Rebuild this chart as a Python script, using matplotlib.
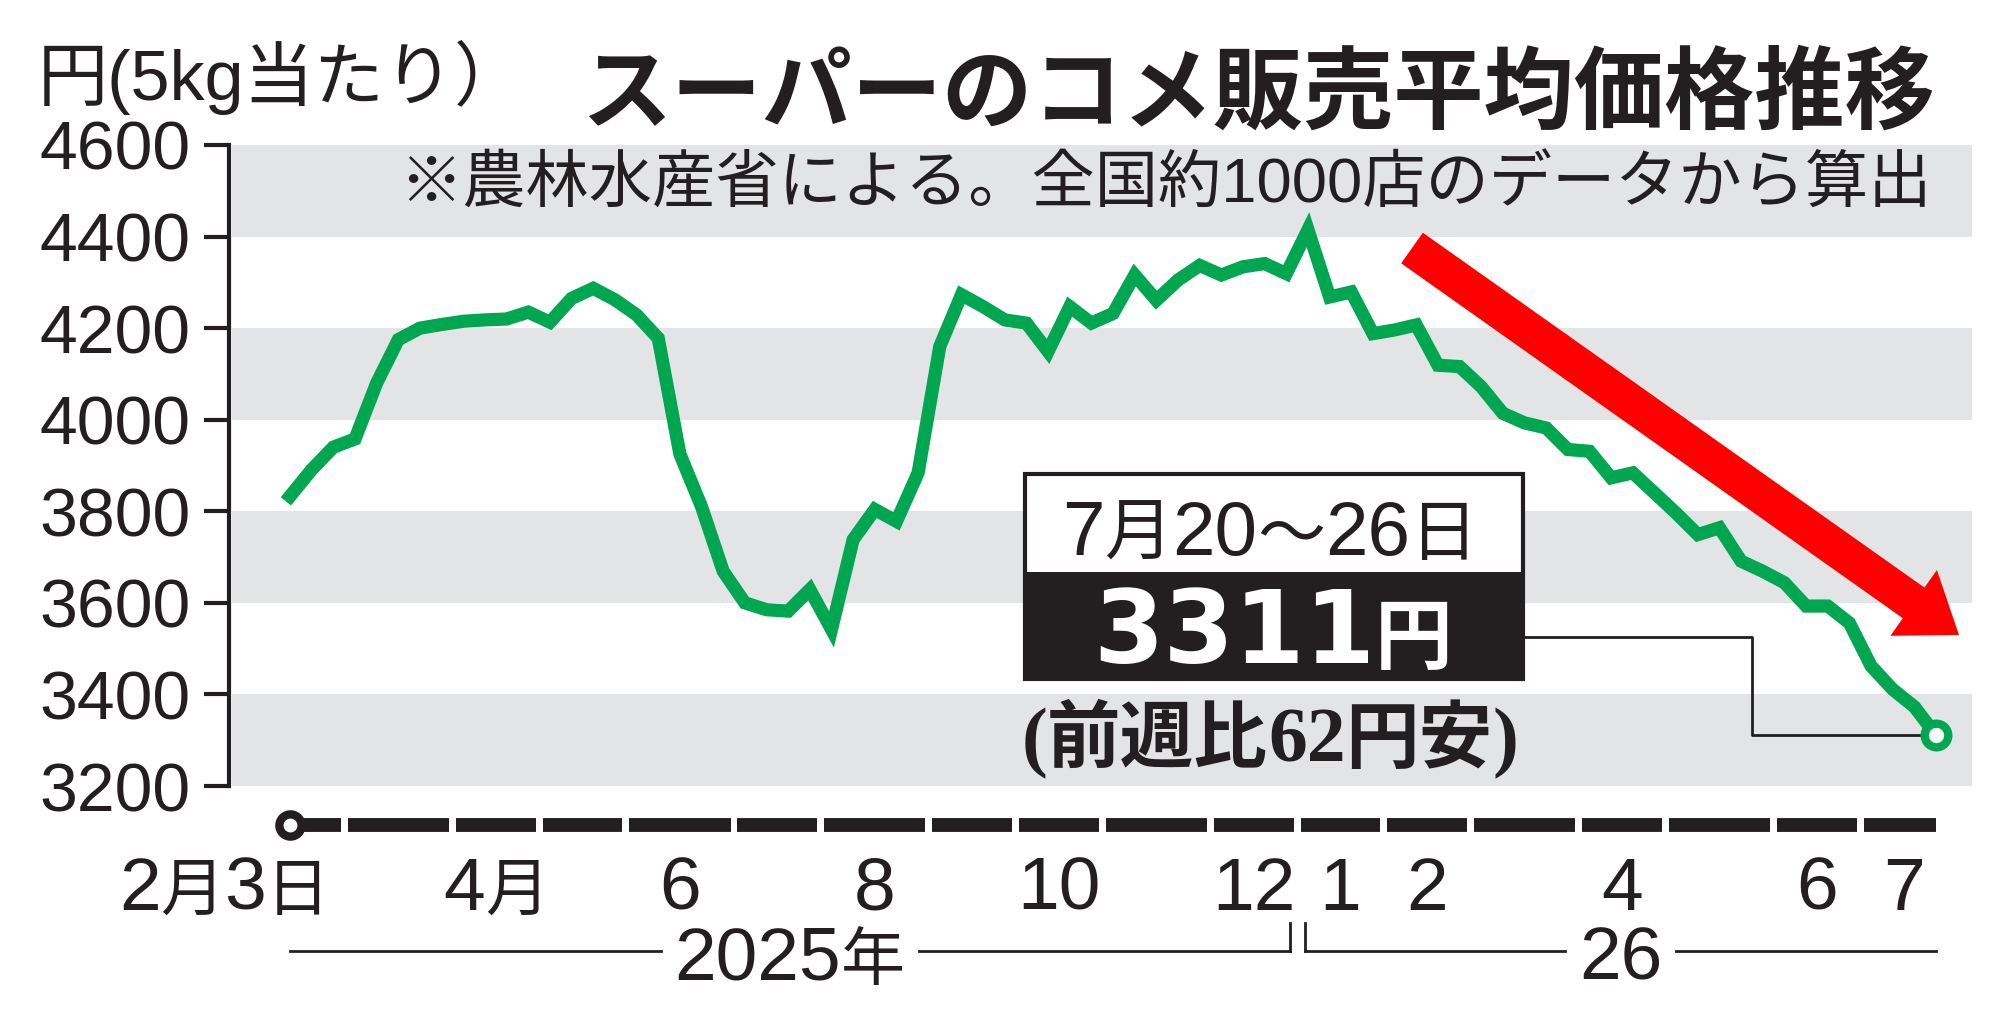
import numpy as np
import pandas as pd
import matplotlib
matplotlib.use('Agg')
import matplotlib.pyplot as plt
from matplotlib import transforms
from matplotlib.patches import Rectangle, FancyArrowPatch

W, H = 2008, 1016

# 週ごとのデータ（週の終わりの日付で月を判定）
week_end = pd.date_range('2025-02-09', periods=77, freq='7D')
prices = [3833, 3891, 3940, 3958, 4080, 4175, 4200, 4208, 4215, 4218,
          4220, 4235, 4213, 4265, 4287, 4262, 4229, 4178, 3925, 3810,
          3669, 3600, 3585, 3582, 3629, 3542, 3738, 3804, 3778, 3884,
          4160, 4273, 4247, 4218, 4211, 4149, 4247, 4211, 4232, 4316,
          4261, 4305, 4337, 4316, 4334, 4341, 4319, 4415, 4268, 4279,
          4188, 4196, 4207, 4119, 4116, 4072, 4014, 3993, 3982, 3935,
          3931, 3873, 3884, 3840, 3796, 3749, 3764, 3691, 3669, 3644,
          3593, 3593, 3556, 3462, 3411, 3373, 3311]

yticks = [3200, 3400, 3600, 3800, 4000, 4200, 4400, 4600]
month_labels = {'2025-02': '2月3日', '2025-04': '4月', '2025-06': '6', '2025-08': '8',
                '2025-10': '10', '2025-12': '12', '2026-01': '1', '2026-02': '2',
                '2026-04': '4', '2026-06': '6', '2026-07': '7'}
year_labels = {2025: '2025年', 2026: '26'}

title = 'スーパーのコメ販売平均価格推移'
subtitle = '※農林水産省による。全国約1000店のデータから算出'
unit_label = '円(5kg当たり）'
last_week = '7月20～26日'
last_price = '3311円'
last_change = '(前週比62円安)'

GREEN = '#00a650'
BLACK = '#231f20'
GRAY = '#e3e4e6'
RED = '#ff0000'
LATIN = ['Liberation Sans', 'Noto Sans CJK JP']
CJK = ['Noto Sans CJK JP', 'DejaVu Sans']

plt.rcParams['font.family'] = LATIN + ['DejaVu Sans']

fig = plt.figure(figsize=(W / 100, H / 100), dpi=100)


def fx(px):
    return px / W


def fy(py):
    return 1 - py / H


ax = fig.add_axes([fx(232), fy(786), fx(1972) - fx(232), fy(145) - fy(786)])
x = np.arange(len(prices))
ax.set_xlim(-2.68, 77.66)
ax.set_ylim(yticks[0], yticks[-1])


def px2data(px, py):
    return ax.transData.inverted().transform((px, H - py))


# 縞模様の背景
for lo in yticks[::2]:
    ax.axhspan(lo, lo + 200, color=GRAY, lw=0, zorder=0)

for s in ['top', 'right', 'bottom']:
    ax.spines[s].set_visible(False)
ax.spines['left'].set_linewidth(3)
ax.spines['left'].set_color(BLACK)
ax.spines['left'].set_position(('outward', 2))
ax.set_yticks(yticks)
ax.set_yticklabels([str(v) for v in yticks], fontsize=49, color=BLACK)
ax.tick_params(axis='y', length=18, width=3, pad=10, color=BLACK, direction='out')
ax.set_xticks([])

# 折れ線
ax.plot(x, prices, color=GREEN, lw=9.5, solid_joinstyle='miter', zorder=4, clip_on=False)
ax.plot(x[-1], prices[-1], 'o', ms=17, mfc='white', mec=GREEN, mew=6, zorder=6, clip_on=False)

# 引き出し線
lx0, ly0 = px2data(1523, 637)
lx1, _ = px2data(1752, 637)
ax.plot([lx0, lx1, lx1, x[-1]], [ly0, ly0, prices[-1], prices[-1]], color=BLACK, lw=2,
        zorder=5, clip_on=False)

# 赤い矢印
arrow = FancyArrowPatch(px2data(1412, 248), px2data(1959, 635),
                        arrowstyle='simple,head_length=40,head_width=58,tail_width=27',
                        mutation_scale=1, color=RED, lw=0, shrinkA=0, shrinkB=0,
                        zorder=3, clip_on=False)
ax.add_patch(arrow)


def runs(s):
    out = []
    for ch in s:
        kind = ord(ch) < 128
        if out and out[-1][0] == kind:
            out[-1][1] += ch
        else:
            out.append([kind, ch])
    return out


def mixed_text(xx, yy, s, latin, cjk, transform, ha='center', **kw):
    # 英数字と和文で文字サイズを変えて並べる。全体の幅(px)を返す
    renderer = fig.canvas.get_renderer()
    parts = [(t, latin if k else cjk) for k, t in runs(s)]
    widths = []
    for t, props in parts:
        tmp = fig.text(0, 0, t, **props)
        widths.append(tmp.get_window_extent(renderer).width)
        tmp.remove()
    total = sum(widths)
    cursor = -total / 2 if ha == 'center' else -total
    for (t, props), w in zip(parts, widths):
        tr = transforms.offset_copy(transform, fig=fig, x=cursor, y=0, units='dots')
        ax.text(xx, yy, t, transform=tr, ha='left', va='baseline', clip_on=False, **props, **kw)
        cursor += w
    return total


blend = transforms.blended_transform_factory(ax.transData, fig.transFigure)
lab_latin = {'fontsize': 54, 'family': LATIN, 'color': BLACK}
lab_cjk = {'fontsize': 46, 'family': CJK, 'color': BLACK}

# 月の区切りバー
months = week_end.to_period('M').astype(str)
gap = 0.16
for m in pd.unique(months):
    idx = x[months == m]
    a = idx.min() - 0.5 + gap if idx.min() > 0 else 0
    b = idx.max() + 0.5 - gap if idx.max() < x[-1] else x[-1]
    ax.plot([a, b], [fy(825)] * 2, transform=blend, color=BLACK, lw=10,
            solid_capstyle='butt', clip_on=False, zorder=5)
    if m in month_labels:
        if idx.min() == 0:
            mixed_text(idx.max() - 0.15, fy(910), month_labels[m], lab_latin, lab_cjk,
                       blend, ha='right', zorder=6)
        else:
            mixed_text(idx.mean(), fy(910), month_labels[m], lab_latin, lab_cjk,
                       blend, zorder=6)
ax.plot(0, fy(825), 'o', transform=blend, ms=16, mfc='white', mec=BLACK, mew=6,
        clip_on=False, zorder=7)

# 年のブラケット
years = week_end.year
ygap = 0.35
for yr in pd.unique(years):
    idx = x[years == yr]
    a = idx.min() - 0.5 + ygap if idx.min() > 0 else 0
    b = idx.max() + 0.5 - ygap if idx.max() < x[-1] else x[-1]
    c = (a + b) / 2
    w = mixed_text(c, fy(980), year_labels[yr], lab_latin, lab_cjk, blend, zorder=4)
    cx = ax.transData.transform((c, 0))[0]
    left_end = ax.transData.inverted().transform((cx - w / 2 - 14, 0))[0]
    right_start = ax.transData.inverted().transform((cx + w / 2 + 14, 0))[0]
    ax.plot([a, left_end], [fy(951)] * 2, transform=blend, color=BLACK, lw=2, clip_on=False, zorder=3)
    ax.plot([right_start, b], [fy(951)] * 2, transform=blend, color=BLACK, lw=2, clip_on=False, zorder=3)
    if idx.min() > 0:
        ax.plot([a, a], [fy(951), fy(923)], transform=blend, color=BLACK, lw=2, clip_on=False, zorder=3)
    if idx.max() < x[-1]:
        ax.plot([b, b], [fy(951), fy(923)], transform=blend, color=BLACK, lw=2, clip_on=False, zorder=3)

# 最新値のボックス
ax.add_patch(Rectangle((fx(1025), fy(679)), fx(1523) - fx(1025), fy(474) - fy(679),
                       transform=fig.transFigure, facecolor='white', edgecolor='none',
                       zorder=7, clip_on=False))
ax.add_patch(Rectangle((fx(1025), fy(679)), fx(1523) - fx(1025), fy(572) - fy(679),
                       transform=fig.transFigure, facecolor=BLACK, edgecolor='none',
                       zorder=8, clip_on=False))
ax.add_patch(Rectangle((fx(1025), fy(679)), fx(1523) - fx(1025), fy(474) - fy(679),
                       transform=fig.transFigure, fill=False, edgecolor=BLACK, lw=3,
                       zorder=9, clip_on=False))
mixed_text(fx(1270), fy(555), last_week,
           {'fontsize': 55, 'family': LATIN, 'color': BLACK},
           {'fontsize': 49, 'family': CJK, 'color': BLACK},
           fig.transFigure, zorder=10)
mixed_text(fx(1273), fy(663), last_price,
           {'fontsize': 73, 'family': 'DejaVu Sans', 'fontweight': 'bold', 'color': 'white'},
           {'fontsize': 56, 'family': CJK, 'fontweight': 'bold', 'color': 'white'},
           fig.transFigure, zorder=10)
mixed_text(fx(1270), fy(762), last_change,
           {'fontsize': 56, 'family': ['Liberation Serif', 'DejaVu Serif'], 'fontweight': 'bold', 'color': BLACK},
           {'fontsize': 53, 'family': CJK, 'fontweight': 'bold', 'color': BLACK},
           fig.transFigure, zorder=10)

# タイトルなど
fig.text(fx(1935), fy(122), title, ha='right', va='baseline', fontsize=65,
         fontweight='bold', family=CJK, color=BLACK)
fig.text(fx(1932), fy(203), subtitle, ha='right', va='baseline', fontsize=45.5,
         color=BLACK)
fig.text(fx(38), fy(100), unit_label, ha='left', va='baseline', fontsize=50.5, color=BLACK)

fig.savefig('out.png', dpi=100, facecolor='white')
